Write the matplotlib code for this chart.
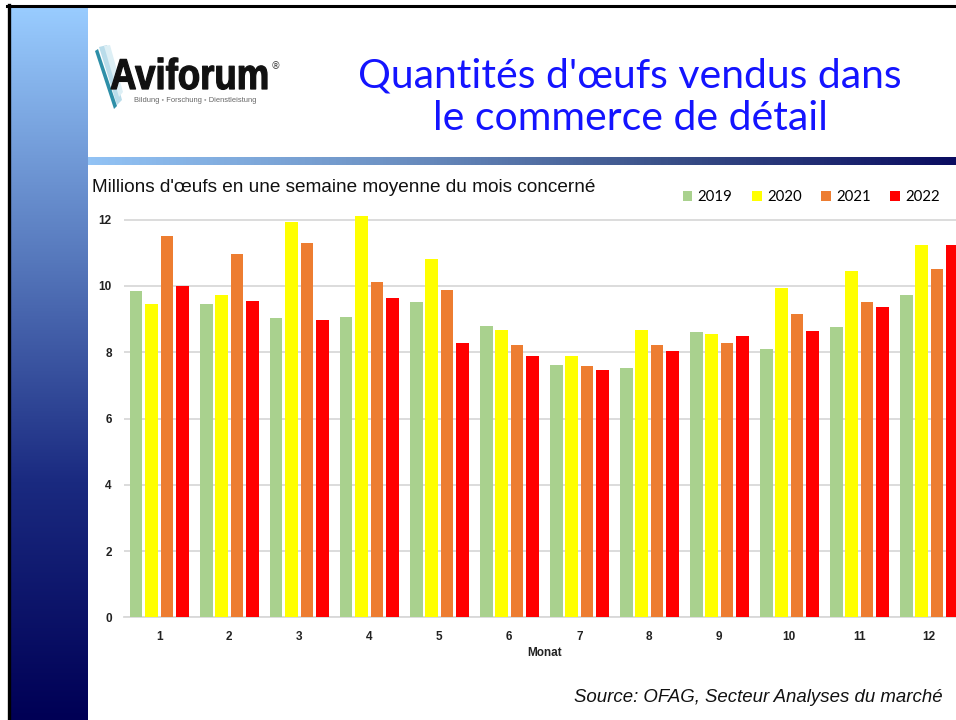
#Retail egg sales - Aviforum slide
import numpy as np
import matplotlib.pyplot as plt
from matplotlib.lines import Line2D
from matplotlib.patches import Polygon, PathPatch
from matplotlib.colors import LinearSegmentedColormap
from matplotlib.textpath import TextPath
from matplotlib.font_manager import FontProperties
from matplotlib.transforms import Affine2D, IdentityTransform

#Data: millions of eggs in an average week of the month
months = ['1', '2', '3', '4', '5', '6', '7', '8', '9', '10', '11', '12']
years = ['2019', '2020', '2021', '2022']
v2019 = [9.86, 9.47, 9.02, 9.07, 9.53, 8.80, 7.62, 7.51, 8.60, 8.10, 8.77, 9.74]
v2020 = [9.45, 9.74, 11.93, 12.11, 10.83, 8.67, 7.90, 8.67, 8.54, 9.93, 10.44, 11.25]
v2021 = [11.50, 10.96, 11.31, 10.11, 9.88, 8.21, 7.59, 8.21, 8.27, 9.14, 9.52, 10.51]
v2022 = [10.00, 9.54, 8.98, 9.63, 8.29, 7.89, 7.45, 8.05, 8.50, 8.63, 9.38, 11.23]
colors = ['#A9D18E', '#FFFF00', '#ED7D31', '#FF0000']

W, H = 956, 720
fig = plt.figure(figsize=(W / 100, H / 100), dpi=100)
fig.patch.set_facecolor('white')

#Left gradient bar
bar_ax = fig.add_axes([10 / W, 0, 78 / W, (H - 7) / H])
grad = np.linspace(0, 1, 256).reshape(-1, 1)
cmap_v = LinearSegmentedColormap.from_list('v', ['#99CCFF', '#5A7DC0', '#1A2A80', '#000055'])
bar_ax.imshow(grad, aspect='auto', cmap=cmap_v, extent=[0, 1, 1, 0])
bar_ax.axis('off')

#Header line
line_ax = fig.add_axes([88 / W, (H - 165.5) / H, (W - 88) / W, 8.5 / H])
cmap_h = LinearSegmentedColormap.from_list('h', ['#92C3F5', '#6F94C6', '#3A5088', '#0A0C60'])
line_ax.imshow(grad.T, aspect='auto', cmap=cmap_h)
line_ax.axis('off')

#Black border
fig.add_artist(Line2D([7 / W, 1], [1 - 6 / H, 1 - 6 / H], color='black', lw=2.2))
fig.add_artist(Line2D([8.5 / W, 8.5 / W], [0, 1 - 5 / H], color='black', lw=2.4))

#Logo: feather strokes
for pts, col in [([(99, 47), (107, 45), (122, 100), (117, 105)], '#B9DCEA'),
                 ([(104, 46), (110, 45), (123, 92), (119, 97)], '#DDEFF5'),
                 ([(95, 51), (98, 49), (117, 106), (114, 109)], '#2E8FA8')]:
    fig.add_artist(Polygon([(x / W, 1 - y / H) for x, y in pts], closed=True,
                           facecolor=col, edgecolor='none'))

#Logo word, squeezed horizontally to fit the condensed lettering
tp = TextPath((0, 0), 'Aviforum', size=100,
              prop=FontProperties(family='Liberation Sans', weight='bold'))
bb = tp.get_extents()
sx = (267 - 111) / bb.width
sy = 31 / 72.0  # cap height of 'A' at size 100 is ~72
tr = Affine2D().translate(-bb.x0, 0).scale(sx, sy).translate(111, H - 89)
fig.add_artist(PathPatch(tr.transform_path(tp), facecolor='#111111', edgecolor='#111111',
                         lw=0.9, joinstyle='round', transform=IdentityTransform()))
fig.text(275 / W, 1 - 66 / H, '®', fontsize=7, color='#444444', va='center', ha='center')
fig.text(134 / W, 1 - 101 / H, 'Bildung ◦ Forschung ◦ Dienstleistung', fontsize=5.4,
         color='#666666', va='center', family=['Liberation Sans', 'DejaVu Sans'])

#Slide title
fig.text(630 / W, 1 - 76 / H, "Quantités d'œufs vendus dans", fontsize=29.5,
         family='Lato', color='#1414FF', ha='center', va='center')
fig.text(630 / W, 1 - 119 / H, 'le commerce de détail', fontsize=29.5,
         family='Lato', color='#1414FF', ha='center', va='center')

#Chart
ax = fig.add_axes([124.3 / W, (H - 617.3) / H, (W - 124.3) / W, 12.4 * 33.13 / H])
x = np.arange(1, len(months) + 1)
pitch = 0.22
for i, (vals, yr) in enumerate(zip([v2019, v2020, v2021, v2022], years)):
    ax.bar(x + (i - 1.5) * pitch, vals, width=0.18, color=colors[i], label=yr, zorder=3)

ax.set_xlim(0.5, 0.5 + (W - 124.3) / 70)
ax.set_ylim(0, 12.4)
ax.set_yticks(range(0, 13, 2))
ax.set_xticks(x)
ax.set_xticklabels(months)
ax.grid(axis='y', color='#D9D9D9', lw=1.3, zorder=0)
for s in ['top', 'right', 'left']:
    ax.spines[s].set_visible(False)
ax.spines['bottom'].set_color('#D9D9D9')
ax.spines['bottom'].set_linewidth(1.3)
ax.tick_params(length=0, labelsize=8.5, pad=9)
ax.tick_params(axis='x', pad=10)
for lbl in ax.get_xticklabels() + ax.get_yticklabels():
    lbl.set_fontweight('bold')
    lbl.set_family('Liberation Sans')
    lbl.set_color('#222222')

fig.text(545 / W, 1 - 653 / H, 'Monat', fontsize=8.5, fontweight='bold',
         family='Liberation Sans', color='#222222', ha='center', va='center')
fig.text(92 / W, 1 - 187 / H, "Millions d'œufs en une semaine moyenne du mois concerné",
         fontsize=13.7, family='Liberation Sans', color='#111111', va='center')

ax.legend(loc='center right', bbox_to_anchor=(940 / W, 1 - 197 / H),
          bbox_transform=fig.transFigure, ncol=4, frameon=False,
          prop={'family': 'Lato', 'size': 10.8}, handlelength=0.65, handleheight=0.65,
          handletextpad=0.35, columnspacing=1.3, borderpad=0, borderaxespad=0)

fig.text(943 / W, 1 - 697 / H, 'Source: OFAG, Secteur Analyses du marché',
         fontsize=13.4, style='italic', family='Liberation Sans', color='#111111',
         ha='right', va='center')

plt.savefig('out.png', dpi=100)
